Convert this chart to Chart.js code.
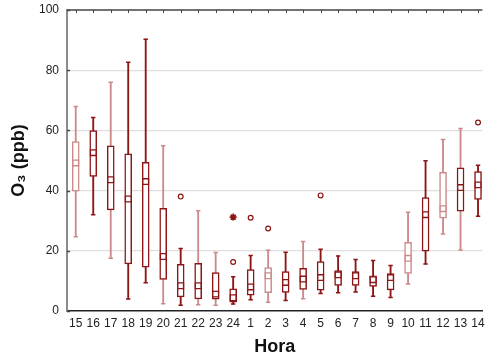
<!DOCTYPE html>
<html><head><meta charset="utf-8">
<script src="https://cdn.jsdelivr.net/npm/chart.js@4/dist/chart.umd.min.js"></script>
<style>html,body{margin:0;padding:0;background:#fff}</style>
</head><body>
<canvas id="c" width="488" height="362" style="width:488px;height:362px;display:block"></canvas>
<script>
const categories = ['15','16','17','18','19','20','21','22','23','24','1','2','3','4','5','6','7','8','9','10','11','12','13','14'];
const whiskerLow  = [24.7,32.0,17.5,4.0,9.4,2.4,1.9,2.1,1.9,2.3,3.7,2.9,3.5,4.1,5.8,6.1,6.3,4.9,4.5,9.0,15.6,25.6,20.3,31.5];
const boxLow      = [39.8,44.7,33.6,15.6,14.6,10.5,4.7,4.0,3.9,2.9,5.3,6.1,6.2,7.2,6.9,8.5,8.5,8.2,7.0,12.5,19.9,30.8,33.2,37.1];
const median      = [49.2,52.6,43.6,37.2,43.0,18.1,8.4,8.4,5.6,4.4,8.0,11.7,9.5,10.6,11.1,12.0,11.7,10.4,11.1,17.5,32.0,34.0,41.0,41.9];
const boxHigh     = [56.3,59.9,54.9,52.2,49.4,34.1,15.5,15.8,12.8,7.4,13.8,14.4,13.1,14.2,16.4,13.4,13.1,11.7,12.4,22.8,37.7,46.1,47.6,46.3];
const whiskerHigh = [67.9,64.3,76.0,82.6,90.3,54.9,20.8,33.3,19.4,11.4,18.4,20.2,19.5,23.1,20.5,18.3,17.1,16.8,15.1,32.8,49.9,57.0,60.6,48.4];
const outlierHour  = ['21','24','1','2','5','14'];
const outlierValue = [38.0,16.3,31.0,27.4,38.4,62.6];
const extremeHour  = ['24'];
const extremeValue = [31.2];
const yTicks = [0,20,40,60,80,100];

// styles (tone per category)
const boxTone     = ['l','d','d','d','d','d','d','d','d','d','d','l','d','d','d','d','d','d','d','l','d','l','d','d'];
const whiskerTone = ['l','d','l','d','d','l','d','l','l','d','d','l','d','l','d','d','d','d','d','l','d','l','l','d'];
const DARK = '#8c1515', LIGHT = '#cc8a8a';
const bc = i => boxTone[i] === 'l' ? LIGHT : DARK;
const wc = i => whiskerTone[i] === 'l' ? LIGHT : DARK;

const idx = h => categories.indexOf(h);
const capData = [];
categories.forEach((c,i) => { capData.push({x:i,y:whiskerLow[i]}); capData.push({x:i,y:whiskerHigh[i]}); });

const topFrame = {
  id: 'topFrame',
  afterDraw(chart) {
    const {ctx, chartArea, scales} = chart;
    ctx.save();
    ctx.strokeStyle = '#444'; ctx.lineWidth = 1.5;
    ctx.beginPath(); ctx.moveTo(chartArea.left, chartArea.top); ctx.lineTo(chartArea.right, chartArea.top); ctx.stroke();
    ctx.lineWidth = 1;
    categories.forEach((c,i) => {
      const x = Math.round(scales.x.getPixelForValue(i)) + 0.5;
      ctx.beginPath(); ctx.moveTo(x, chartArea.top); ctx.lineTo(x, chartArea.top + 3); ctx.stroke();
    });
    ctx.lineWidth = 1.5;
    yTicks.forEach(v => {
      const y = Math.round(scales.y.getPixelForValue(v)) + 0.5;
      ctx.beginPath(); ctx.moveTo(chartArea.left, y); ctx.lineTo(chartArea.left + 3, y); ctx.stroke();
    });
    ctx.restore();
  }
};

new Chart(document.getElementById('c'), {
  type: 'bar',
  data: {
    datasets: [
      { type:'bar', data: categories.map((c,i)=>({x:i,y:[whiskerLow[i],whiskerHigh[i]]})),
        backgroundColor: ctx => wc(ctx.dataIndex), borderWidth: 0, barThickness: 1.2, grouped:false, order: 3 },
      { type:'bar', data: categories.map((c,i)=>({x:i,y:[boxLow[i],boxHigh[i]]})),
        backgroundColor: '#fff', borderColor: ctx => bc(ctx.dataIndex), borderWidth: 1.5, borderSkipped: false,
        barThickness: 7, grouped:false, order: 2 },
      { type:'line', showLine:false, data: capData, pointStyle:'line', pointRadius:2.2, pointBorderWidth:1.5,
        pointBorderColor: ctx => wc(ctx.raw ? ctx.raw.x : 0), order: 1 },
      { type:'line', showLine:false, data: categories.map((c,i)=>({x:i,y:median[i]})), pointStyle:'rect', pointRadius:4,
        pointBackgroundColor:'#fff', pointBorderWidth:1.3, pointBorderColor: ctx => bc(ctx.dataIndex), order: 0 },
      { type:'line', showLine:false, data: outlierHour.map((h,k)=>({x:idx(h),y:outlierValue[k]})), pointStyle:'circle', pointRadius:2.4,
        pointBackgroundColor:'#fff', pointBorderWidth:1.2, pointBorderColor: DARK, order: 0 },
      { type:'line', showLine:false, data: extremeHour.map((h,k)=>({x:idx(h),y:extremeValue[k]})), pointStyle:'star', pointRadius:3.5,
        pointBackgroundColor:DARK, pointBorderWidth:1.6, pointBorderColor: DARK, order: 0 }
    ]
  },
  options: {
    responsive:false, animation:false, devicePixelRatio:1,
    layout:{padding:{top:10,right:2,left:0,bottom:0}},
    plugins:{legend:{display:false}, tooltip:{enabled:false}},
    events:[],
    scales:{
      x:{ type:'linear', min:-0.5, max:23.25, offset:false,
        afterBuildTicks: s => { s.ticks = categories.map((c,i)=>({value:i})); },
        grid:{display:false, drawTicks:false},
        border:{color:'#222', width:1.5},
        ticks:{ autoSkip:false, maxRotation:0, padding:5, color:'#222',
          font:{family:'Liberation Sans, Arial', size:12},
          callback: v => Number.isInteger(v) && v>=0 && v<categories.length ? categories[v] : '' },
        title:{display:true, text:'Hora', color:'#111', font:{family:'Liberation Sans, Arial', size:18, weight:'bold'}, padding:{top:0,bottom:4}},
        afterFit: s => { s.height = 51; s.paddingLeft = 0; s.paddingRight = 0; }
      },
      y:{ min:0, max:100,
        afterBuildTicks: s => { s.ticks = yTicks.map(v=>({value:v})); },
        grid:{ drawTicks:false, lineWidth:1.2, color: ctx => (ctx.tick && (ctx.tick.value===0||ctx.tick.value===100)) ? 'rgba(0,0,0,0)' : '#dedede' },
        border:{color:'#8a8a8a', width:2},
        ticks:{ padding:8, color:'#222', font:{family:'Liberation Sans Narrow, Liberation Sans, Arial', size:12} },
        title:{display:true, text:'O₃ (ppb)', color:'#111', font:{family:'Liberation Sans, Arial', size:18, weight:'bold'}, padding:{top:8,bottom:0}},
        afterFit: s => { s.width = 67; s.paddingTop = 0; s.paddingBottom = 0; }
      }
    }
  },
  plugins:[topFrame]
});
</script>
</body></html>
